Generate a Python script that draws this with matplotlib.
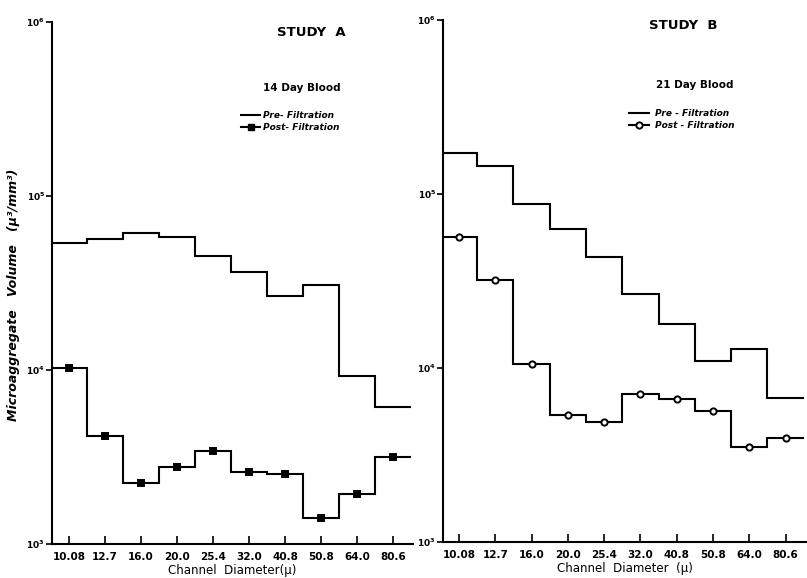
import matplotlib.pyplot as plt
import numpy as np
from matplotlib.lines import Line2D

plt.rcParams['font.family'] = ['DejaVu Sans']
plt.rcParams['font.weight'] = 'bold'
plt.rcParams['mathtext.default'] = 'regular'

# channel diameters (micron)
channels = ['10.08', '12.7', '16.0', '20.0', '25.4', '32.0', '40.8', '50.8', '64.0', '80.6']

# Study A, 14 day blood
pre_a = [53500, 56900, 61000, 58100, 45000, 36700, 26600, 31000, 9270, 6150]
post_a = [10300, 4190, 2250, 2770, 3420, 2590, 2520, 1405, 1930, 3150]

# Study B, 21 day blood
pre_b = [171000, 144000, 87300, 63100, 43500, 26500, 18000, 10900, 12900, 6700]
post_b = [56600, 31900, 10500, 5380, 4900, 7050, 6600, 5680, 3530, 3940]

fig = plt.figure(figsize=(8.07, 5.78), dpi=100)

ax1 = fig.add_axes([52/807, 1 - 544/578, 361/807, 522/578])
ax2 = fig.add_axes([443/807, 1 - 542/578, 364/807, 522/578])

x = np.arange(len(channels))
edges = np.arange(len(channels) + 1) - 0.5


def draw_panel(ax, pre, post, marker, mfc, xlim):
    ax.stairs(pre, edges, baseline=None, color='black', lw=1.5)
    ax.stairs(post, edges, baseline=None, color='black', lw=1.5)
    ax.plot(x, post, linestyle='none', marker=marker, ms=4.5, mfc=mfc,
            mec='black', mew=1.4)
    ax.set_yscale('log')
    ax.set_ylim(1e3, 1e6)
    ax.set_xlim(*xlim)
    ax.set_yticks([1e3, 1e4, 1e5, 1e6])
    ax.set_yticklabels(['$10^3$', '$10^4$', '$10^5$', '$10^6$'])
    ax.minorticks_off()
    ax.set_xticks(x)
    ax.set_xticklabels(channels)
    ax.tick_params(axis='x', direction='in', length=6, width=1.2, labelsize=7.5, pad=6)
    ax.tick_params(axis='y', direction='out', length=4, width=1.2, labelsize=6.5, pad=1)
    for s in ['top', 'right']:
        ax.spines[s].set_visible(False)
    for s in ['left', 'bottom']:
        ax.spines[s].set_linewidth(1.5)
    ax.patch.set_alpha(0)


draw_panel(ax1, pre_a, post_a, 's', 'black', (-0.47, 9.55))
draw_panel(ax2, pre_b, post_b, 'o', 'white', (-0.44, 9.59))

ax1.text(0.717, 0.979, 'STUDY  A', transform=ax1.transAxes, ha='center',
         va='center', fontsize=9.5)
ax1.text(0.693, 0.874, '14 Day Blood', transform=ax1.transAxes, ha='center',
         va='center', fontsize=7.5)
ax2.text(0.659, 0.99, 'STUDY  B', transform=ax2.transAxes, ha='center',
         va='center', fontsize=9.5)
ax2.text(0.692, 0.875, '21 Day Blood', transform=ax2.transAxes, ha='center',
         va='center', fontsize=7.5)

h_a = [Line2D([], [], color='black', lw=1.5),
       Line2D([], [], color='black', lw=1.5, marker='s', ms=4.5)]
h_b = [Line2D([], [], color='black', lw=1.5),
       Line2D([], [], color='black', lw=1.5, marker='o', ms=4.5, mfc='white', mew=1.4)]
ax1.legend(h_a, ['Pre- Filtration', 'Post- Filtration'], loc='upper left',
           bbox_to_anchor=(0.5, 0.845), frameon=False,
           handlelength=2.2, handletextpad=0.3, labelspacing=0.35,
           prop={'style': 'italic', 'weight': 'bold', 'size': 6.5})
ax2.legend(h_b, ['Pre - Filtration', 'Post - Filtration'], loc='upper left',
           bbox_to_anchor=(0.49, 0.845), frameon=False,
           handlelength=2.2, handletextpad=0.6, labelspacing=0.35,
           prop={'style': 'italic', 'weight': 'bold', 'size': 6.5})

ax1.set_xlabel('Channel  Diameter(μ)', fontsize=8.5, labelpad=1)
ax2.set_xlabel('Channel  Diameter  (μ)', fontsize=8.5, labelpad=1)
fig.text(0.017, 0.49, 'Microaggregate   Volume   (μ³/mm³)', rotation=90,
         ha='center', va='center', fontsize=9, style='italic')

fig.savefig('out.png', dpi=100)
